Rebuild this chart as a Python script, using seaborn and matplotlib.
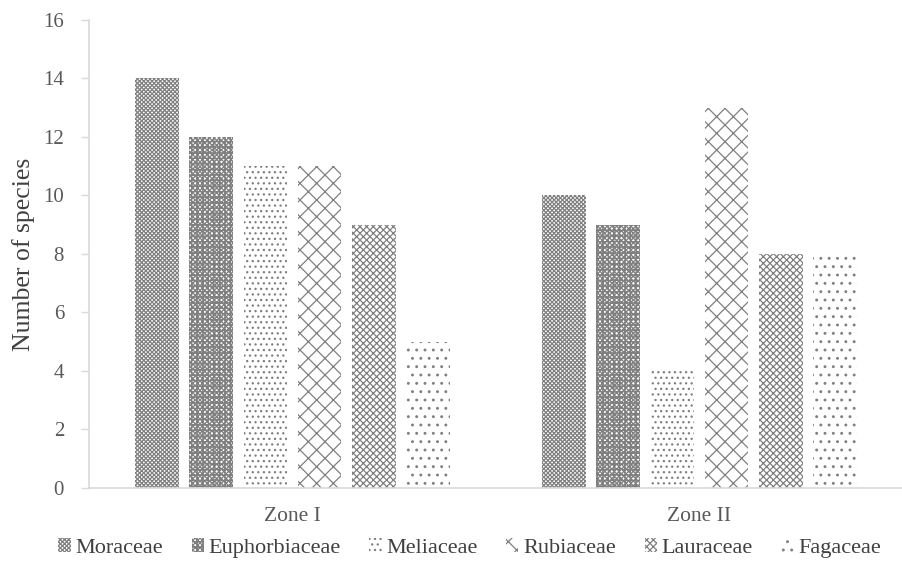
import numpy as np
import pandas as pd
import seaborn as sns
import matplotlib.pyplot as plt
from matplotlib.patches import Patch

zones = ['Zone I', 'Zone II']
families = ['Moraceae', 'Euphorbiaceae', 'Meliaceae', 'Rubiaceae', 'Lauraceae', 'Fagaceae']
zone1 = [14, 12, 11, 11, 9, 5]
zone2 = [10, 9, 4, 13, 8, 8]
hatches = ['x' * 8, 'x' * 7 + '+' * 3, '...', 'xx', 'x' * 5, '..']

rows = []
for f, a, b in zip(families, zone1, zone2):
    rows.append({'Zone': zones[0], 'Family': f, 'Count': a})
    rows.append({'Zone': zones[1], 'Family': f, 'Count': b})
df = pd.DataFrame(rows)

sns.set_style('white')
plt.rcParams['font.family'] = ['Liberation Serif', 'DejaVu Serif']
plt.rcParams['hatch.linewidth'] = 0.9

hatch_col = '#808080'
fig = plt.figure(figsize=(9.03, 5.79), dpi=100)
ax = fig.add_axes([0.0986, 0.1572, 0.9014, 0.8083])

sns.barplot(data=df, x='Zone', y='Count', hue='Family', hue_order=families,
            palette=['white'] * 6, width=0.8, gap=0.2, legend=False, ax=ax,
            edgecolor=hatch_col, linewidth=0)

for cont, h in zip(ax.containers, hatches):
    for p in cont:
        p.set_hatch(h)
        p.set_edgecolor(hatch_col)
        p.set_linewidth(0)

ax.set_ylim(0, 16)
ax.set_yticks(range(0, 17, 2))
ax.set_xlim(-0.5, 1.5)
ax.set_xlabel('')
ax.set_ylabel('Number of species', fontsize=18.5, color='#404040', labelpad=6)
ax.tick_params(axis='y', labelsize=15, labelcolor='#595959', color='#d9d9d9',
               length=6, width=1, left=True, pad=12)
ax.tick_params(axis='x', labelsize=15.5, labelcolor='#595959', length=0, pad=14)
sns.despine(ax=ax, top=True, right=True)
for s in ['left', 'bottom']:
    ax.spines[s].set_color('#d9d9d9')
    ax.spines[s].set_linewidth(1.2)

handles = [Patch(facecolor='white', edgecolor=hatch_col, linewidth=0, hatch=h, label=f)
           for f, h in zip(families, hatches)]
fig.legend(handles=handles, loc='center', bbox_to_anchor=(0.52, 0.054), ncol=6,
           frameon=False, fontsize=16, handlelength=0.55, handleheight=0.6,
           handletextpad=0.2, columnspacing=1.3, labelcolor='#404040')

fig.savefig('out.png', dpi=100)
